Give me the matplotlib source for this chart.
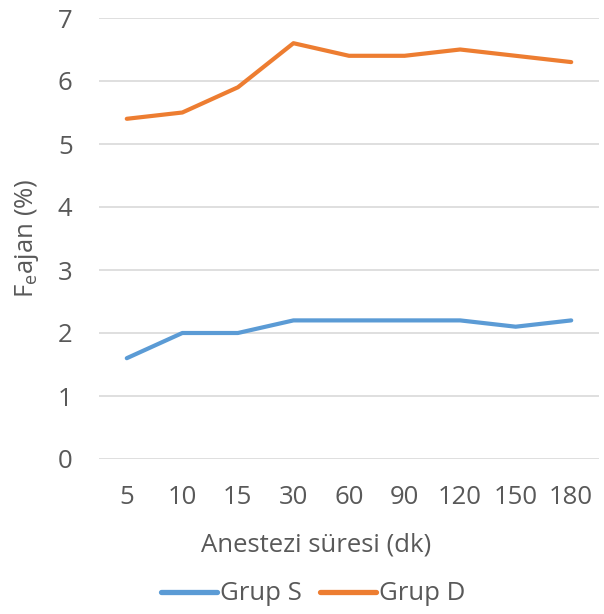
import matplotlib
matplotlib.use("Agg")
import matplotlib.pyplot as plt

categories = ["5", "10", "15", "30", "60", "90", "120", "150", "180"]
grup_s = [1.6, 2.0, 2.0, 2.2, 2.2, 2.2, 2.2, 2.1, 2.2]
grup_d = [5.4, 5.5, 5.9, 6.6, 6.4, 6.4, 6.5, 6.4, 6.3]
yticks = [0, 1, 2, 3, 4, 5, 6, 7]

plt.rcParams['font.family'] = ['Open Sans', 'DejaVu Sans']
fig = plt.figure(figsize=(6.04, 6.14), dpi=100)
ax = fig.add_axes([99/604, 1-459/614, 500/604, 441/614])

x = list(range(len(categories)))
ax.plot(x, grup_s, color="#5B9BD5", lw=3.0, label="Grup S", solid_capstyle="round")
ax.plot(x, grup_d, color="#ED7D31", lw=3.0, label="Grup D", solid_capstyle="round")

ax.set_xlim(-0.5, len(categories) - 0.5)
ax.set_ylim(0, 7)
ax.set_yticks(yticks)
ax.set_xticks(x)
ax.set_xticklabels(categories)
ax.grid(axis="y", color="#D9D9D9", lw=1.2)
ax.set_axisbelow(True)
for s in ["top", "right", "left", "bottom"]:
    ax.spines[s].set_visible(False)
ax.tick_params(axis="both", length=0, labelsize=18.5, colors="#595959")
ax.tick_params(axis="x", pad=19)
ax.tick_params(axis="y", pad=19)
ax.set_xlabel("Anestezi süresi (dk)", fontsize=18.5, color="#595959", va="center")
ax.xaxis.set_label_coords((316 - 99) / 500, -(545 - 459) / 441)
ax.set_ylabel("F$_\\mathregular{e}$ajan (%)", fontsize=18.5, color="#595959", labelpad=12)

leg = fig.legend(loc="center", bbox_to_anchor=(313 / 604, 1 - 594 / 614), ncol=2, frameon=False,
                 fontsize=18.5, handlelength=2.2, columnspacing=0.7, handletextpad=0.1,
                 borderpad=0, borderaxespad=0)
for t in leg.get_texts():
    t.set_color("#595959")
for l in leg.get_lines():
    l.set_linewidth(3.8)

fig.savefig("out.png", dpi=100)
